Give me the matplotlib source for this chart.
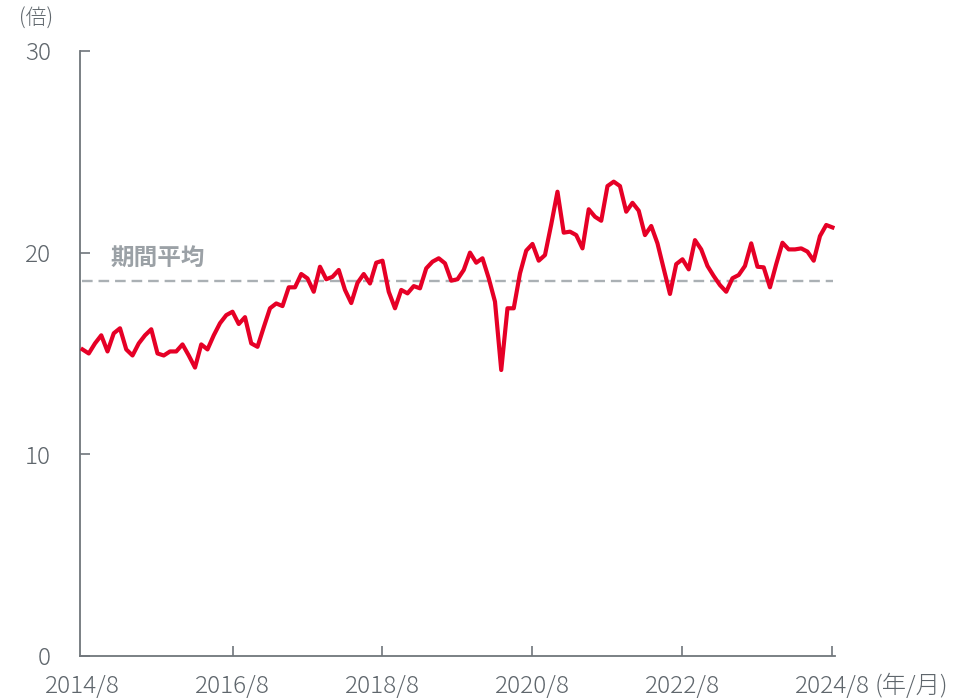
import numpy as np
import matplotlib
matplotlib.use("Agg")
import matplotlib.pyplot as plt

plt.rcParams['font.family'] = ['Noto Sans CJK JP', 'DejaVu Sans']

# monthly PER values, 2014/8 .. 2024/8
per_values = [
    15.2, 15.0, 15.5, 15.9, 15.1, 16.0, 16.25, 15.2, 14.9, 15.5,
    15.9, 16.2, 15.0, 14.9, 15.1, 15.1, 15.45, 14.9, 14.3, 15.45,
    15.2, 15.9, 16.5, 16.9, 17.07, 16.46, 16.8, 15.5, 15.33, 16.3,
    17.24, 17.48, 17.35, 18.28, 18.28, 18.94, 18.72, 18.06, 19.3, 18.68,
    18.8, 19.14, 18.15, 17.5, 18.5, 18.94, 18.47, 19.5, 19.6, 18.06,
    17.24, 18.15, 17.98, 18.34, 18.23, 19.22, 19.55, 19.72, 19.47, 18.61,
    18.68, 19.14, 20.0, 19.5, 19.72, 18.73, 17.57, 14.18, 17.24, 17.24,
    18.97, 20.1, 20.43, 19.6, 19.88, 21.4, 23.02, 20.99, 21.04, 20.87,
    20.21, 22.15, 21.78, 21.58, 23.3, 23.52, 23.3, 22.03, 22.47, 22.08,
    20.87, 21.32, 20.46, 19.2, 17.95, 19.43, 19.67, 19.17, 20.62, 20.16,
    19.34, 18.84, 18.39, 18.06, 18.73, 18.89, 19.34, 20.46, 19.3, 19.27,
    18.28, 19.43, 20.49, 20.16, 20.16, 20.21, 20.05, 19.6, 20.82, 21.37,
    21.25,
]
period_avg = 18.6
tick_labels = ['2014/8', '2016/8', '2018/8', '2020/8', '2022/8', '2024/8']
y_ticks = [0, 10, 20, 30]

months = np.arange(len(per_values))
gray = '#5f666c'

fig = plt.figure(figsize=(9.71, 6.98), dpi=100)
ax = fig.add_axes([0.0824, 0.0602, 0.7775, 0.8668])

ax.plot(months, per_values, color='#e60026', lw=3.0, solid_joinstyle='round', zorder=3)
ax.axhline(period_avg, xmin=0.003, xmax=0.997, color='#aab0b4', lw=1.7, ls=(0, (4.5, 2.5)), zorder=2)
ax.text(4.5, period_avg + 1.15, '期間平均', color='#9ba1a6', fontsize=17, fontweight='bold', va='center', ha='left')

ax.set_xlim(-0.4, 120.4)
ax.set_ylim(0, 30)
ax.set_xticks(months[::24])
ax.set_xticklabels(tick_labels)
ax.set_yticks(y_ticks)

for s in ['top', 'right']:
    ax.spines[s].set_visible(False)
for s in ['left', 'bottom']:
    ax.spines[s].set_color('#70767b')
    ax.spines[s].set_linewidth(1.3)

ax.tick_params(axis='both', direction='in', length=7, width=1.2, color='#70767b',
               labelcolor=gray, labelsize=17.5)
ax.tick_params(axis='y', pad=21)
ax.tick_params(axis='x', pad=13)
for lbl in ax.get_xticklabels() + ax.get_yticklabels():
    lbl.set_fontweight('light')
# the first x tick sits on the y axis, so hide its mark
ax.xaxis.get_major_ticks()[0].tick1line.set_visible(False)

fig.text(0.02, 0.973, '(倍)', color=gray, fontsize=15, fontweight='light', va='center', ha='left')
fig.text(0.977, 0.0165, '(年/月)', color=gray, fontsize=17.5, fontweight='light', va='center', ha='right')

fig.savefig('out.png', dpi=100)
